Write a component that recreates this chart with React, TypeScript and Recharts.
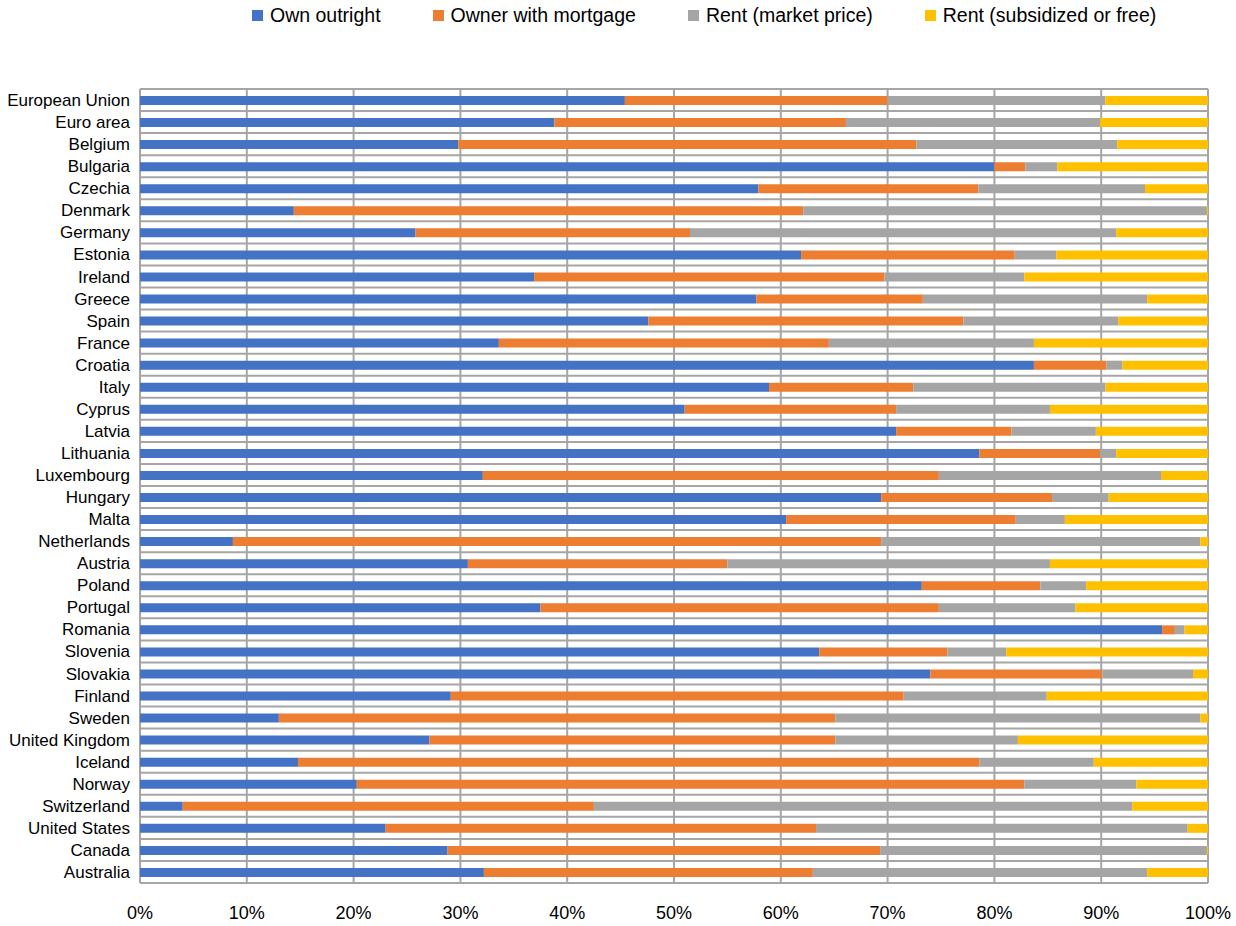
import { BarChart, Bar, XAxis, YAxis, CartesianGrid, Legend } from 'recharts';

const countries = [
  'European Union', 'Euro area', 'Belgium', 'Bulgaria', 'Czechia', 'Denmark', 'Germany', 'Estonia',
  'Ireland', 'Greece', 'Spain', 'France', 'Croatia', 'Italy', 'Cyprus', 'Latvia', 'Lithuania',
  'Luxembourg', 'Hungary', 'Malta', 'Netherlands', 'Austria', 'Poland', 'Portugal', 'Romania',
  'Slovenia', 'Slovakia', 'Finland', 'Sweden', 'United Kingdom', 'Iceland', 'Norway',
  'Switzerland', 'United States', 'Canada', 'Australia',
];

const ownOutright = [
  45.4, 38.8, 29.8, 80.0, 57.9, 14.4, 25.8, 61.9, 36.9, 57.7, 47.6, 33.6, 83.7, 58.9, 51.0, 70.8, 78.6,
  32.1, 69.4, 60.5, 8.7, 30.7, 73.2, 37.5, 95.7, 63.6, 74.0, 29.1, 13.0, 27.1, 14.8, 20.3, 4.0, 23.0,
  28.8, 32.2,
];
const withMortgage = [
  24.6, 27.3, 42.9, 2.9, 20.6, 47.7, 25.7, 20.0, 32.8, 15.6, 29.5, 30.9, 6.8, 13.5, 19.8, 10.8, 11.3,
  42.7, 16.0, 21.5, 60.7, 24.3, 11.1, 37.3, 1.2, 12.0, 16.1, 42.4, 52.1, 38.0, 63.8, 62.5, 38.5, 40.3,
  40.5, 30.8,
];
const rentMarket = [
  20.4, 23.8, 18.8, 3.0, 15.6, 37.8, 39.9, 3.9, 13.1, 21.0, 14.5, 19.2, 1.5, 18.0, 14.4, 7.9, 1.5,
  20.8, 5.3, 4.6, 29.9, 30.2, 4.3, 12.8, 0.9, 5.5, 8.5, 13.4, 34.2, 17.1, 10.7, 10.5, 50.4, 34.8,
  30.6, 31.3,
];
const rentSubsidized = [
  9.6, 10.1, 8.5, 14.1, 5.9, 0.1, 8.6, 14.2, 17.2, 5.7, 8.4, 16.3, 8.0, 9.6, 14.8, 10.5, 8.6,
  4.4, 9.3, 13.4, 0.7, 14.8, 11.4, 12.4, 2.2, 18.9, 1.4, 15.1, 0.7, 17.8, 10.7, 6.7, 7.1, 1.9,
  0.1, 5.7,
];

const xTicks = [0, 10, 20, 30, 40, 50, 60, 70, 80, 90, 100];

const series = [
  { key: 'own', name: 'Own outright', color: '#4472C4' },
  { key: 'mortgage', name: 'Owner with mortgage', color: '#ED7D31' },
  { key: 'market', name: 'Rent (market price)', color: '#A5A5A5' },
  { key: 'subsidized', name: 'Rent (subsidized or free)', color: '#FFC000' },
];

const data = countries.map((name, i) => ({
  name,
  own: ownOutright[i],
  mortgage: withMortgage[i],
  market: rentMarket[i],
  subsidized: rentSubsidized[i],
}));

const FONT = '"Liberation Sans", Arial, sans-serif';
const GRID = '#A6A6A6';

const LegendRow = () => (
  <div
    style={{
      display: 'flex',
      alignItems: 'center',
      paddingLeft: 252,
      height: 30,
      fontFamily: FONT,
      fontSize: 19.5,
      color: '#000',
    }}
  >
    {series.map((s) => (
      <div key={s.key} style={{ display: 'flex', alignItems: 'center', marginRight: 52 }}>
        <span style={{ width: 11, height: 11, background: s.color, marginRight: 7, display: 'inline-block' }} />
        <span>{s.name}</span>
      </div>
    ))}
  </div>
);

const App = () => {
  return (
    <div style={{ position: 'absolute', left: 0, top: 0, width: 1236, height: 926, background: '#fff' }}>
      <BarChart
        width={1236}
        height={926}
        data={data}
        layout="vertical"
        margin={{ top: 59, right: 28, bottom: 0, left: 0 }}
      >
        <CartesianGrid
          stroke={GRID}
          strokeWidth={2}
          horizontalCoordinatesGenerator={({ offset }: any) =>
            countries.map((_, i) => offset.top + (i * offset.height) / countries.length).concat(offset.top + offset.height)
          }
        />
        <XAxis
          type="number"
          domain={[0, 100]}
          ticks={xTicks}
          tickFormatter={(v) => `${v}%`}
          axisLine={false}
          tickLine={false}
          tickSize={0}
          tickMargin={23}
          height={43}
          interval={0}
          tick={{ fontSize: 18, fill: '#000', fontFamily: FONT }}
        />
        <YAxis
          type="category"
          dataKey="name"
          width={140}
          axisLine={false}
          tickLine={false}
          tickSize={0}
          tickMargin={10}
          interval={0}
          tick={{ fontSize: 17, fill: '#000', fontFamily: FONT }}
        />
        <Legend verticalAlign="top" content={() => <LegendRow />} wrapperStyle={{ top: 0, left: 0, width: 1236 }} />
        {series.map((s) => (
          <Bar key={s.key} dataKey={s.key} name={s.name} stackId="a" fill={s.color} barSize={9} isAnimationActive={false} />
        ))}
      </BarChart>
    </div>
  );
};

export default App;
